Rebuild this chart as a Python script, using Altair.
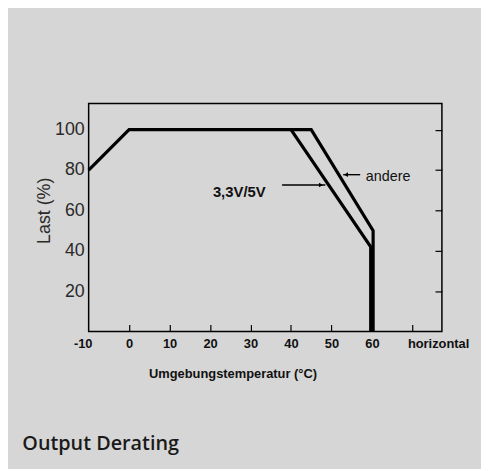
import altair as alt
import pandas as pd

# --- data ---
temp_33 = [-10, 0, 40, 59.7, 59.7]
load_33 = [80, 100, 100, 42, 0]
temp_andere = [40, 45, 60.3, 60.3]
load_andere = [100, 100, 50, 0]

x_ticks = [-10, 0, 10, 20, 30, 40, 50, 60, 70]
y_ticks = [20, 40, 60, 80, 100]

labels = ["3,3V/5V", "andere"]
label_x = [20.7, 58.5]
label_y = [69.0, 76.5]

arrow_x1 = [37.8, 52.9]
arrow_x2 = [48.5, 57.1]
arrow_y = [72.6, 77.7]
head_x = [47.4, 53.6]
head_shape = ["triangle-right", "triangle-left"]

FONT = "Liberation Sans"
BG = "#d6d6d6"
W, H = 357, 230.5
XD = [-10, 77.3]
YD = [0, 113]

rows = []
for t, l in zip(temp_33, load_33):
    rows.append({"T": t, "L": l, "s": "3,3V/5V"})
for t, l in zip(temp_andere, load_andere):
    rows.append({"T": t, "L": l, "s": "andere"})
lines_df = pd.DataFrame(rows)
lines_df["o"] = range(len(lines_df))

ann_df = pd.DataFrame({"t": labels, "x": label_x, "y": label_y})
arr_df = pd.DataFrame({"x1": arrow_x1, "x2": arrow_x2, "y": arrow_y,
                       "hx": head_x, "shape": head_shape})

xs = alt.Scale(domain=XD, nice=False, zero=False)
ys = alt.Scale(domain=YD, nice=False, zero=False)

label_offset = {"condition": [{"test": "datum.value == 70", "value": 26},
                              {"test": "datum.value == -10", "value": -6}],
                "value": 0}

x_axis_main = alt.Axis(values=x_ticks, ticks=False, domain=False, grid=False,
                       labelExpr="datum.value == 70 ? 'horizontal' : '' + datum.value",
                       labelFont=FONT, labelFontSize=13, labelFontWeight="bold",
                       labelColor="#111", labelPadding=6, labelFlush=False,
                       labelOverlap=False, labelOffset=label_offset,
                       title="Umgebungstemperatur (°C)", titleFont=FONT,
                       titleFontSize=13, titleFontWeight="bold", titleColor="#111",
                       titleAnchor="start", titleAlign="left", titleX=60.5,
                       titleY=42.5, titleBaseline="middle")
y_axis_main = alt.Axis(values=y_ticks, ticks=False, domain=False, grid=False,
                       labelFont=FONT, labelFontSize=18, labelColor="#2a2a2a",
                       labelPadding=4.5, title="Last (%)", titleFont=FONT,
                       titleFontSize=18, titleFontWeight="normal",
                       titleColor="#2a2a2a", titleX=-45, titleY=108,
                       titleAngle=-90, titleAlign="center", titleBaseline="middle")

lines = alt.Chart(lines_df).mark_line(color="black", strokeWidth=3.2,
                                      strokeJoin="miter").encode(
    x=alt.X("T:Q", scale=xs, axis=x_axis_main),
    y=alt.Y("L:Q", scale=ys, axis=y_axis_main),
    detail="s:N",
    order="o:Q",
)

# inward tick marks on bottom and right edges (axes moved across the plot)
x_axis_ticks = alt.Axis(orient="top", offset=-H, values=x_ticks[1:], labels=False,
                        domain=False, grid=False, tickSize=7, tickColor="black",
                        tickWidth=1.2, title=None)
y_axis_ticks = alt.Axis(orient="left", offset=-W, values=y_ticks, labels=False,
                        domain=False, grid=False, tickSize=7, tickColor="black",
                        tickWidth=1.2, title=None)

arrows = alt.Chart(arr_df).mark_rule(color="black", strokeWidth=1.4).encode(
    x=alt.X("x1:Q", scale=xs, axis=x_axis_ticks),
    x2="x2:Q",
    y=alt.Y("y:Q", scale=ys, axis=y_axis_ticks),
)

heads = alt.Chart(arr_df).mark_point(filled=True, color="black", size=22,
                                     opacity=1).encode(
    x=alt.X("hx:Q", scale=xs, axis=None),
    y=alt.Y("y:Q", scale=ys, axis=None),
    shape=alt.Shape("shape:N", scale=None),
)

text_33 = alt.Chart(ann_df).transform_filter(alt.datum.t == "3,3V/5V").mark_text(
    font=FONT, align="left", baseline="middle", color="#111",
    fontWeight="bold", fontSize=15).encode(
    x=alt.X("x:Q", scale=xs, axis=None),
    y=alt.Y("y:Q", scale=ys, axis=None),
    text="t:N",
)
text_andere = alt.Chart(ann_df).transform_filter(alt.datum.t == "andere").mark_text(
    font=FONT, align="left", baseline="middle", color="#111",
    fontWeight="normal", fontSize=14.5).encode(
    x=alt.X("x:Q", scale=xs, axis=None),
    y=alt.Y("y:Q", scale=ys, axis=None),
    text="t:N",
)

chart = alt.layer(lines, arrows, heads, text_33, text_andere).resolve_axis(
    x="independent", y="independent"
).properties(
    width=W, height=H,
    autosize=alt.AutoSizeParams(type="none"),
    padding={"left": 81.5, "top": 94, "right": 39.5, "bottom": 136},
    background=BG,
    title=alt.TitleParams("Output Derating", orient="bottom", anchor="start",
                          frame="group", font="Open Sans", fontSize=20,
                          fontWeight=600, color="#1a1a1a", dx=-67, offset=54),
).configure_view(stroke="black", strokeWidth=1.5)

chart.save("out.html", embed_options={"renderer": "svg", "actions": False})
